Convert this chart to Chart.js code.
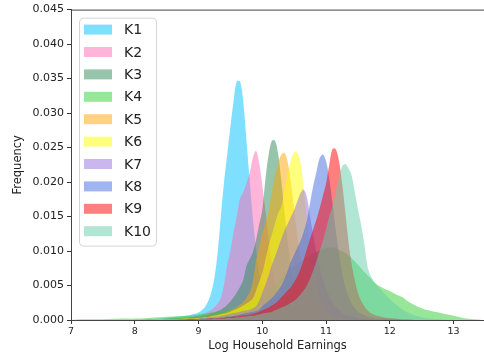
<!DOCTYPE html>
<html>
<head>
<meta charset="utf-8">
<script src="https://cdn.jsdelivr.net/npm/chart.js@4.4.1/dist/chart.umd.min.js"></script>
<style>
  html, body { margin: 0; padding: 0; background: #fff; }
  #wrap { width: 484px; height: 361px; }
</style>
</head>
<body>
<div id="wrap"><canvas id="chart" width="484" height="361"></canvas></div>
<script>
// bin positions (log household earnings)
const xGrid = [
  7.0, 7.2, 7.5, 7.8, 8.0, 8.2, 8.4, 8.6, 8.8, 8.9,
  9.0, 9.05, 9.1, 9.15, 9.2, 9.25, 9.3, 9.35, 9.4, 9.45,
  9.5, 9.55, 9.6, 9.65, 9.7, 9.75, 9.8, 9.85, 9.9, 9.95,
  10.0, 10.05, 10.1, 10.15, 10.2, 10.25, 10.3, 10.35, 10.4, 10.45,
  10.5, 10.55, 10.6, 10.65, 10.7, 10.75, 10.8, 10.85, 10.9, 10.95,
  11.0, 11.05, 11.1, 11.15, 11.2, 11.25, 11.3, 11.35, 11.4, 11.45,
  11.5, 11.55, 11.6, 11.65, 11.7, 11.75, 11.8,
  11.9, 12.0, 12.1, 12.2, 12.3, 12.4, 12.5, 12.6, 12.8, 13.0, 13.2, 13.45
];

// frequencies in units of 0.0001
const k1 = [
  0, 0, 0, 0, 0, 1, 2, 4, 6, 8,
  11, 14, 19, 27, 40, 62, 98, 150, 200, 240,
  280, 318, 346, 346, 318, 262, 205, 150, 105, 68,
  42, 25, 14, 8, 4, 2, 1, 0, 0, 0,
  0, 0, 0, 0, 0, 0, 0, 0, 0, 0,
  0, 0, 0, 0, 0, 0, 0, 0, 0, 0,
  0, 0, 0, 0, 0, 0, 0,
  0, 0, 0, 0, 0, 0, 0, 0, 0, 0, 0, 0
];
const k2 = [
  0, 0, 0, 0, 0, 0, 1, 2, 4, 5,
  7, 8, 10, 12, 15, 19, 24, 32, 52, 80,
  100, 128, 150, 176, 185, 198, 212, 234, 245, 228,
  195, 158, 118, 82, 55, 35, 22, 14, 9, 6,
  4, 3, 2, 1, 1, 0, 0, 0, 0, 0,
  0, 0, 0, 0, 0, 0, 0, 0, 0, 0,
  0, 0, 0, 0, 0, 0, 0,
  0, 0, 0, 0, 0, 0, 0, 0, 0, 0, 0, 0
];
const k3 = [
  0, 0, 0, 0, 0, 0, 1, 2, 3, 4,
  5, 6, 7, 8, 10, 11, 13, 15, 18, 22,
  27, 33, 40, 48, 58, 78, 88, 98, 115, 138,
  160, 205, 240, 260, 260, 240, 200, 155, 112, 78,
  52, 34, 22, 14, 9, 6, 4, 3, 2, 1,
  1, 0, 0, 0, 0, 0, 0, 0, 0, 0,
  0, 0, 0, 0, 0, 0, 0,
  0, 0, 0, 0, 0, 0, 0, 0, 0, 0, 0, 0
];
const k4 = [
  0, 1, 1, 2, 2, 3, 4, 5, 6, 7,
  8, 9, 9, 10, 11, 11, 12, 13, 13, 14,
  15, 16, 17, 18, 20, 22, 24, 27, 30, 34,
  38, 42, 46, 50, 54, 58, 62, 66, 70, 74,
  78, 81, 84, 87, 90, 93, 96, 99, 101, 103,
  104, 105, 105, 104, 102, 100, 97, 94, 90, 85,
  80, 75, 70, 65, 60, 55, 51,
  46, 42, 37, 33, 26, 21, 17, 14, 10, 6, 2, 0
];
const k5 = [
  0, 0, 0, 0, 0, 0, 1, 1, 2, 3,
  3, 4, 4, 5, 6, 7, 8, 9, 10, 12,
  14, 16, 19, 22, 26, 32, 40, 55, 85, 105,
  125, 140, 158, 185, 210, 228, 240, 242, 228, 198,
  160, 122, 88, 60, 40, 26, 17, 11, 7, 5,
  3, 2, 1, 1, 0, 0, 0, 0, 0, 0,
  0, 0, 0, 0, 0, 0, 0,
  0, 0, 0, 0, 0, 0, 0, 0, 0, 0, 0, 0
];
const k6 = [
  0, 0, 0, 0, 0, 0, 1, 1, 2, 2,
  3, 3, 4, 4, 5, 6, 7, 8, 9, 10,
  12, 14, 16, 18, 21, 24, 27, 31, 42, 55,
  68, 88, 108, 124, 140, 155, 165, 190, 212, 232,
  243, 242, 228, 190, 145, 105, 72, 48, 32, 21,
  14, 9, 6, 4, 3, 2, 1, 0, 0, 0,
  0, 0, 0, 0, 0, 0, 0,
  0, 0, 0, 0, 0, 0, 0, 0, 0, 0, 0, 0
];
const k7 = [
  0, 0, 0, 0, 0, 0, 0, 1, 1, 2,
  2, 3, 3, 4, 4, 5, 5, 6, 7, 8,
  9, 10, 11, 12, 13, 14, 15, 17, 20, 28,
  40, 52, 65, 80, 92, 105, 118, 130, 140, 150,
  160, 172, 184, 189, 178, 150, 122, 98, 78, 60,
  46, 35, 26, 20, 15, 11, 8, 6, 5, 4,
  3, 2, 2, 1, 1, 0, 0,
  0, 0, 0, 0, 0, 0, 0, 0, 0, 0, 0, 0
];
const k8 = [
  0, 0, 0, 0, 0, 0, 0, 0, 1, 1,
  1, 2, 2, 2, 3, 3, 3, 4, 4, 5,
  5, 6, 7, 8, 9, 10, 11, 12, 13, 15,
  20, 24, 28, 32, 37, 43, 50, 60, 72, 85,
  95, 105, 115, 128, 145, 170, 195, 215, 235, 240,
  230, 205, 170, 132, 98, 70, 49, 34, 24, 17,
  12, 9, 7, 5, 4, 3, 2,
  2, 1, 1, 0, 0, 0, 0, 0, 0, 0, 0, 0
];
const k9 = [
  0, 0, 0, 0, 0, 0, 0, 0, 0, 1,
  1, 1, 1, 2, 2, 2, 3, 3, 3, 4,
  4, 5, 5, 6, 7, 7, 8, 9, 10, 12,
  14, 16, 18, 21, 24, 28, 33, 38, 43, 48,
  55, 63, 74, 88, 103, 118, 132, 146, 162, 180,
  198, 225, 248, 248, 232, 200, 158, 115, 82, 58,
  40, 28, 20, 14, 10, 8, 6,
  4, 3, 2, 1, 1, 0, 0, 0, 0, 0, 0, 0
];
const k10 = [
  0, 0, 0, 0, 0, 0, 0, 0, 0, 0,
  1, 1, 1, 1, 1, 2, 2, 2, 2, 3,
  3, 3, 4, 4, 5, 5, 6, 6, 7, 8,
  9, 10, 11, 12, 14, 16, 18, 20, 22, 25,
  28, 32, 37, 43, 50, 60, 72, 86, 100, 115,
  132, 150, 165, 185, 205, 222, 226, 220, 210, 186,
  161, 138, 110, 78, 64, 56, 50,
  40, 30, 22, 15, 10, 6, 4, 2, 1, 0, 0, 0
];

const seriesNames = ['K1', 'K2', 'K3', 'K4', 'K5', 'K6', 'K7', 'K8', 'K9', 'K10'];
const seriesValues = [k1, k2, k3, k4, k5, k6, k7, k8, k9, k10];
const seriesColors = [
  [0, 191, 255], [255, 105, 180], [46, 139, 87], [50, 205, 50], [255, 165, 0],
  [255, 255, 0], [147, 112, 219], [65, 105, 225], [255, 0, 0], [102, 205, 170]
];
const yTicks = ['0.000', '0.005', '0.010', '0.015', '0.020', '0.025', '0.030', '0.035', '0.040', '0.045'];
const xTicks = [7, 8, 9, 10, 11, 12, 13];

const UNIT = 10000;
const FONT = 'DejaVu Sans';
const INK = '#222';

const datasets = seriesNames.map((name, i) => ({
  label: name,
  data: xGrid.map((x, j) => ({ x: x, y: seriesValues[i][j] / UNIT })),
  backgroundColor: 'rgba(' + seriesColors[i].join(',') + ',0.5)',
  borderWidth: 0,
  pointRadius: 0,
  fill: 'origin',
  tension: 0.35,
  order: seriesNames.length - i   // K1 at the bottom, K10 on top
}));

// matplotlib draws a top spine too
const topSpine = {
  id: 'topSpine',
  afterDraw(chart) {
    const { ctx, chartArea } = chart;
    ctx.save();
    ctx.strokeStyle = '#444';
    ctx.lineWidth = 1;
    ctx.beginPath();
    ctx.moveTo(chartArea.left, chartArea.top + 0.5);
    ctx.lineTo(chartArea.right, chartArea.top + 0.5);
    ctx.stroke();
    ctx.restore();
  }
};

// legend box in the upper left corner of the axes
const legendBox = {
  id: 'legendBox',
  afterDraw(chart) {
    const { ctx, chartArea } = chart;
    const x = chartArea.left + 8.5, y = chartArea.top + 8.5;
    const w = 77, h = 228, r = 4, rowH = 22.4;
    ctx.save();
    ctx.beginPath();
    ctx.moveTo(x + r, y);
    ctx.lineTo(x + w - r, y);
    ctx.arcTo(x + w, y, x + w, y + r, r);
    ctx.lineTo(x + w, y + h - r);
    ctx.arcTo(x + w, y + h, x + w - r, y + h, r);
    ctx.lineTo(x + r, y + h);
    ctx.arcTo(x, y + h, x, y + h - r, r);
    ctx.lineTo(x, y + r);
    ctx.arcTo(x, y, x + r, y, r);
    ctx.closePath();
    ctx.fillStyle = 'rgba(255,255,255,0.8)';
    ctx.fill();
    ctx.strokeStyle = '#d5d5d5';
    ctx.lineWidth = 1;
    ctx.stroke();

    ctx.font = '14px "' + FONT + '"';
    ctx.textBaseline = 'middle';
    chart.data.datasets.forEach((ds, i) => {
      const cy = y + 11.5 + i * rowH;
      ctx.fillStyle = ds.backgroundColor;
      ctx.fillRect(x + 4.5, cy - 5, 28, 10);
      ctx.fillStyle = INK;
      ctx.fillText(ds.label, x + 44.5, cy + 1);
    });
    ctx.restore();
  }
};

const ctx = document.getElementById('chart').getContext('2d');
new Chart(ctx, {
  type: 'line',
  data: { datasets: datasets },
  options: {
    responsive: false,
    animation: false,
    devicePixelRatio: 1,
    layout: { padding: { top: 5, right: -8, bottom: 0, left: 0 } },
    plugins: {
      legend: { display: false },
      tooltip: { enabled: false }
    },
    scales: {
      x: {
        type: 'linear',
        min: 7,
        max: 13.477,
        afterFit: (s) => { s.height = 41; },
        afterBuildTicks: (s) => { s.ticks = xTicks.map(v => ({ value: v })); },
        ticks: {
          callback: (v) => String(v),
          font: { family: FONT, size: 9.5 },
          color: INK,
          padding: 2,
          maxRotation: 0
        },
        grid: { drawOnChartArea: false, tickLength: 4, color: '#333' },
        border: { color: '#444', width: 1 },
        title: {
          display: true,
          text: 'Log Household Earnings',
          font: { family: FONT, size: 11.5 },
          color: INK,
          padding: { top: 0, bottom: 8 }
        }
      },
      y: {
        min: 0,
        max: 0.045,
        afterFit: (s) => { s.width = 71; },
        afterBuildTicks: (s) => { s.ticks = yTicks.map(t => ({ value: parseFloat(t) })); },
        ticks: {
          callback: (v, i) => yTicks[i],
          font: { family: FONT, size: 11 },
          color: INK,
          padding: 3
        },
        grid: { drawOnChartArea: false, tickLength: 4, color: '#333' },
        border: { color: '#444', width: 1 },
        title: {
          display: true,
          text: 'Frequency',
          font: { family: FONT, size: 11.5 },
          color: INK,
          padding: { top: 11, bottom: 0 }
        }
      }
    }
  },
  plugins: [topSpine, legendBox]
});
</script>
</body>
</html>
